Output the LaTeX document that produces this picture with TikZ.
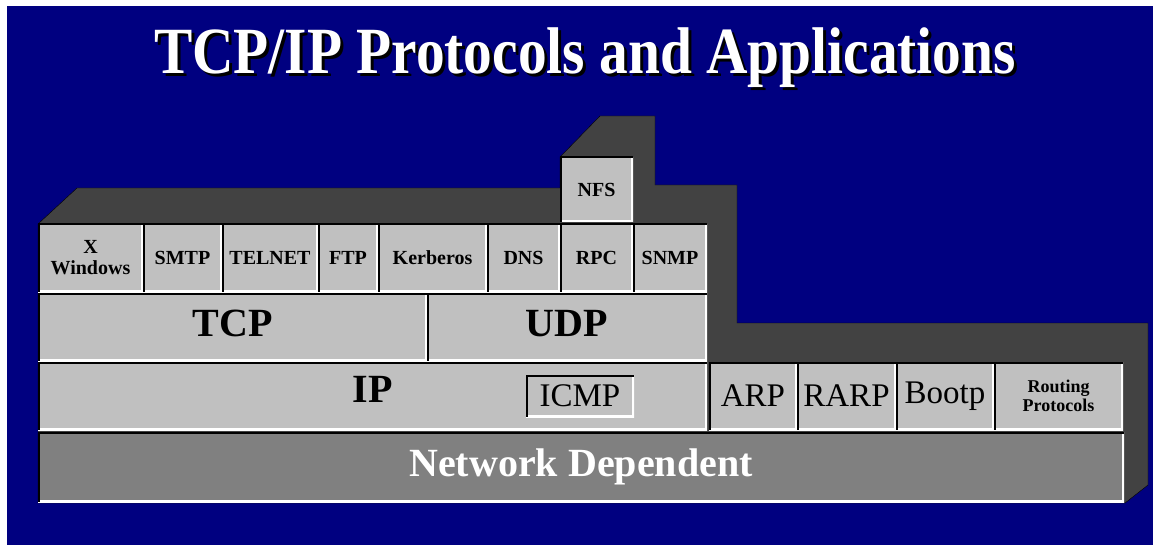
\documentclass[tikz,border=0pt]{standalone}
\usepackage{fontspec}
\setmainfont{Liberation Serif}
\usepackage{graphicx}
\definecolor{navy}{RGB}{0,0,128}
\definecolor{cellgray}{RGB}{192,192,192}
\definecolor{basegray}{RGB}{128,128,128}
\definecolor{shadegray}{RGB}{66,66,66}
\newcommand{\shadowtext}[1]{\rlap{\kern3pt\raisebox{-3pt}{\color{black}#1}}\color{white}#1}
\tikzset{
	bevel/.style={path picture={
		\draw[white,line width=4pt] (path picture bounding box.north east) -- (path picture bounding box.south east) -- (path picture bounding box.south west);
		\draw[black,line width=3pt] (path picture bounding box.south west) -- (path picture bounding box.north west) -- (path picture bounding box.north east);}},
	cell/.style={bevel, fill=cellgray, inner sep=0pt, align=center},
	applabel/.style={font=\bfseries\fontsize{20}{20}\selectfont},
	biglabel/.style={font=\bfseries\fontsize{40}{40}\selectfont},
	linklabel/.style={font=\fontsize{33}{33}\selectfont},
}

\begin{document}
\begin{tikzpicture}[x=1pt,y=-1pt]
				%%%%% START %%%%%
				\useasboundingbox (0,0) rectangle (1153,545);
				\fill[white] (0,0) rectangle (1153,545);
				\fill[navy] (7,6) rectangle (1153,545);
				
				% title with drop shadow
				\node[font=\bfseries\fontsize{66}{66}\selectfont] (title) at (585,59) {\shadowtext{\scalebox{0.87}[1]{TCP/IP Protocols and Applications}}};
				
				% shaded back of the stack
				\draw[fill=shadegray] (38,224) -- (77,188) -- (560,188) -- (560,157) -- (600,116) -- (655,116) -- (655,185) -- (737,185) -- (737,323) -- (1148,323) -- (1148,485) -- (1125,503) -- (38,503) -- cycle;
				
				% applications
				\node[cell, applabel, minimum width=73pt, minimum height=65pt] (nfs) at (596.5,189.5) {NFS};
				\node[cell, applabel, minimum width=105pt, minimum height=68pt] (xwin) at (90.5,258) {X\\[1pt]Windows};
				\node[cell, applabel, minimum width=79pt, minimum height=68pt] (smtp) at (182.5,258) {SMTP};
				\node[cell, applabel, minimum width=96pt, minimum height=68pt] (telnet) at (270,258) {TELNET};
				\node[cell, applabel, minimum width=60pt, minimum height=68pt] (ftp) at (348,258) {FTP};
				\node[cell, applabel, minimum width=109pt, minimum height=68pt] (kerberos) at (432.5,258) {Kerberos};
				\node[cell, applabel, minimum width=73pt, minimum height=68pt] (dns) at (523.5,258) {DNS};
				\node[cell, applabel, minimum width=73pt, minimum height=68pt] (rpc) at (596.5,258) {RPC};
				\node[cell, applabel, minimum width=74pt, minimum height=68pt] (snmp) at (670,258) {SNMP};
				
				% transport
				\node[cell, biglabel, minimum width=389pt, minimum height=68pt] (tcp) at (232.5,327) {\raisebox{8pt}{TCP}};
				\node[cell, biglabel, minimum width=280pt, minimum height=68pt] (udp) at (567,327) {\raisebox{8pt}{UDP}};
				
				% internet
				\node[cell, biglabel, minimum width=669pt, minimum height=68pt] (ip) at (372.5,396) {\raisebox{13pt}{IP}};
				\node[cell, linklabel, minimum width=108pt, minimum height=42pt] (icmp) at (580,396) {ICMP};
				\node[cell, linklabel, minimum width=88pt, minimum height=68pt] (arp) at (753,396) {ARP};
				\node[cell, linklabel, minimum width=99pt, minimum height=68pt] (rarp) at (846.5,396) {RARP};
				\node[cell, linklabel, minimum width=98pt, minimum height=68pt] (bootp) at (945,396) {Bootp};
				\node[cell, applabel, font=\bfseries\fontsize{18}{18}\selectfont, minimum width=129pt, minimum height=68pt] (routing) at (1058.5,396) {Routing\\[1pt]Protocols};
				
				% network
				\node[bevel, fill=basegray, text=white, font=\bfseries\fontsize{40}{40}\selectfont, minimum width=1086pt, minimum height=70pt] (netdep) at (581,467) {\raisebox{5pt}{Network Dependent}};
				%%%%% END %%%%%
\end{tikzpicture}
\end{document}
